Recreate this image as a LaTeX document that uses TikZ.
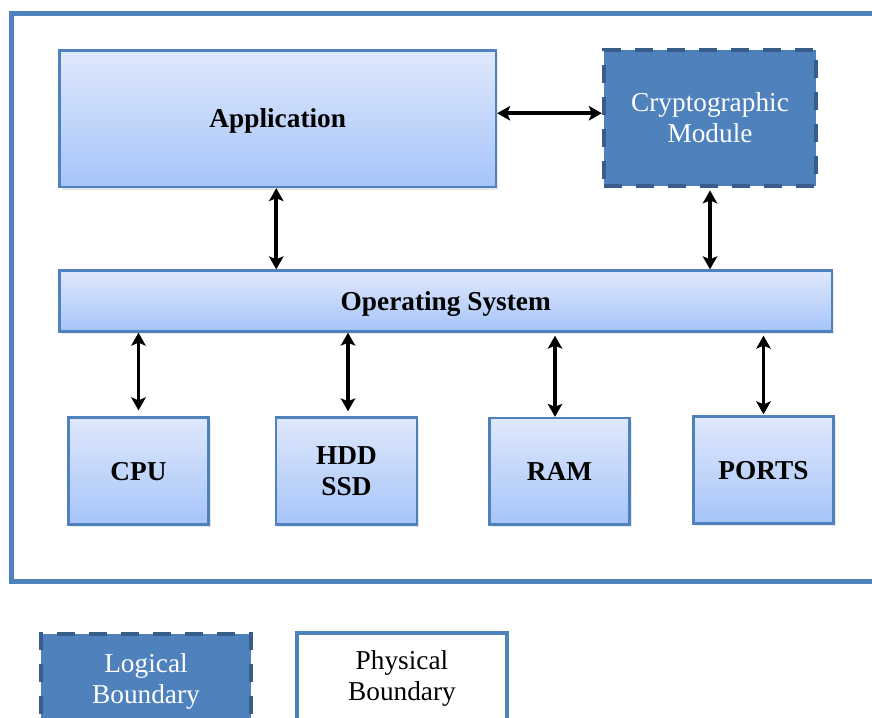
\documentclass[tikz,border=0pt]{standalone}
\usepackage{fontspec}
\setmainfont{Liberation Serif}
\usetikzlibrary{arrows.meta,shadows}
\definecolor{frameblue}{HTML}{4F81BD}
\definecolor{dashblue}{HTML}{385D8A}
\definecolor{gradtop}{HTML}{DFE8FC}
\definecolor{gradbot}{HTML}{A6C4F9}
\begin{document}
\begin{tikzpicture}[x=1pt,y=-1pt,
  txt/.style={font=\fontsize{27.3}{31}\selectfont},
  hwbox/.style={txt, draw=frameblue, line width=2.3pt,
    top color=gradtop, bottom color=gradbot,
    inner sep=0pt, align=center, font=\fontsize{27.3}{31}\selectfont\bfseries,
    drop shadow={shadow xshift=2pt, shadow yshift=-2.5pt, opacity=0.18}},
  oneline/.style={text height=24.3pt, text depth=5.9pt},
  twoline/.style={text height=55.3pt, text depth=5.9pt},
  logicbox/.style={txt, draw=dashblue, fill=frameblue, text=white,
    line width=4.3pt, dash pattern=on 18pt off 14pt,
    inner sep=0pt, align=center},
  physbox/.style={txt, draw=frameblue, fill=white, text=black,
    line width=4.3pt, inner sep=0pt, align=center},
  biarrow/.style={{Stealth[length=13pt,width=14.5pt,inset=3pt]}-{Stealth[length=13pt,width=14.5pt,inset=3pt]},
    line width=3.8pt, black},
]
\useasboundingbox (0,0) rectangle (872,717);
\clip (0,0) rectangle (872,717);

% physical boundary of the host
\draw[frameblue, line width=4.6pt] (11.5,13.5) rectangle (920,581.5);

% software layers
\node[hwbox, oneline, minimum width=436.5pt, minimum height=136.5pt] (app) at (277.75,118.75) {Application};
\node[logicbox, twoline, minimum width=212pt, minimum height=136.5pt] (crypto) at (710,118) {Cryptographic\\Module};
\node[hwbox, oneline, minimum width=772.5pt, minimum height=61pt] (os) at (445.75,301) {Operating System};

% hardware
\node[hwbox, oneline, minimum width=140pt, minimum height=107pt] (cpu) at (138.5,471) {CPU};
\node[hwbox, twoline, minimum width=141pt, minimum height=107pt] (disk) at (346.5,471) {HDD\\SSD};
\node[hwbox, oneline, minimum width=140pt, minimum height=106.5pt] (ram) at (559.5,471.25) {RAM};
\node[hwbox, oneline, minimum width=140pt, minimum height=107pt] (ports) at (763.5,470) {PORTS};

% legend
\node[logicbox, minimum width=210pt, minimum height=94pt] (leglog) at (146,681) {Logical\\Boundary};
\node[physbox, minimum width=210pt, minimum height=90pt] (legphys) at (402,678) {Physical\\Boundary};

% connectors
\draw[biarrow] ([yshift=5.5pt]app.east) -- ([yshift=5.5pt]app.east -| crypto.west);
\draw[biarrow] ([xshift=-1.5pt]app.south) -- ([xshift=-1.5pt]app.south |- os.north);
\draw[biarrow, shorten <=2pt] (crypto.south) -- (crypto.south |- os.north);
\draw[biarrow, shorten >=6pt] (cpu.north |- os.south) -- (cpu.north);
\draw[biarrow, shorten >=5pt] ([xshift=1.5pt]disk.north |- os.south) -- ([xshift=1.5pt]disk.north);
\draw[biarrow, shorten <=3pt] ([xshift=-4.5pt]ram.north |- os.south) -- ([xshift=-4.5pt]ram.north);
\draw[biarrow, shorten <=3pt, shorten >=1pt] (ports.north |- os.south) -- (ports.north);
\end{tikzpicture}
\end{document}
